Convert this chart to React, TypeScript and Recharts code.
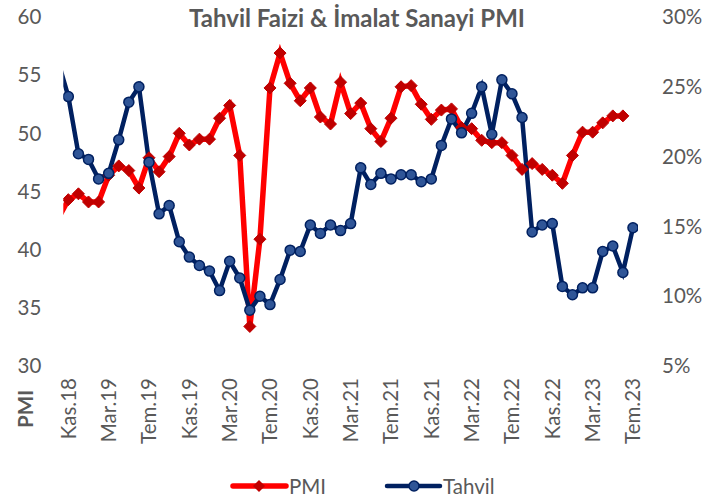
import React from 'react';
import { LineChart, Line, XAxis, YAxis } from 'recharts';

const CATEGORIES = ['Eki.18','Kas.18','Ara.18','Oca.19','Şub.19','Mar.19','Nis.19','May.19','Haz.19','Tem.19','Ağu.19','Eyl.19','Eki.19','Kas.19','Ara.19','Oca.20','Şub.20','Mar.20','Nis.20','May.20','Haz.20','Tem.20','Ağu.20','Eyl.20','Eki.20','Kas.20','Ara.20','Oca.21','Şub.21','Mar.21','Nis.21','May.21','Haz.21','Tem.21','Ağu.21','Eyl.21','Eki.21','Kas.21','Ara.21','Oca.22','Şub.22','Mar.22','Nis.22','May.22','Haz.22','Tem.22','Ağu.22','Eyl.22','Eki.22','Kas.22','Ara.22','Oca.23','Şub.23','Mar.23','Nis.23','May.23','Haz.23','Tem.23'];

const PMI_VALUES: (number | null)[] = [42.7, 44.3, 44.8, 44.1, 44.1, 46.4, 47.2, 46.8, 45.3, 47.9, 46.7, 48.0, 50.0, 49.0, 49.5, 49.5, 51.3, 52.4, 48.1, 33.4, 40.9, 53.9, 56.9, 54.3, 52.8, 53.9, 51.4, 50.8, 54.4, 51.7, 52.6, 50.4, 49.3, 51.3, 54.0, 54.1, 52.5, 51.2, 52.0, 52.1, 50.5, 50.4, 49.4, 49.2, 49.2, 48.1, 46.9, 47.4, 46.9, 46.4, 45.7, 48.1, 50.1, 50.1, 50.9, 51.5, 51.5, null];

const TAHVIL_VALUES: number[] = [26.8, 24.3, 20.2, 19.8, 18.4, 18.8, 21.2, 23.9, 25.0, 19.6, 15.9, 16.5, 13.9, 12.8, 12.2, 11.8, 10.4, 12.5, 11.3, 9.0, 10.0, 9.4, 11.2, 13.3, 13.2, 15.1, 14.5, 15.1, 14.7, 15.2, 19.2, 18.0, 18.8, 18.4, 18.7, 18.7, 18.2, 18.4, 20.8, 22.7, 21.7, 23.1, 25.0, 21.6, 25.5, 24.5, 22.8, 14.6, 15.1, 15.2, 10.7, 10.1, 10.6, 10.6, 13.2, 13.6, 11.7, 14.9];

const X_TICKS = [1, 5, 9, 13, 17, 21, 25, 29, 33, 37, 41, 45, 49, 53, 57];
const LEFT_TICKS = [30, 35, 40, 45, 50, 55, 60];
const RIGHT_TICKS = [5, 10, 15, 20, 25, 30];

const data = CATEGORIES.map((c, i) => ({ i, cat: c, pmi: PMI_VALUES[i], tahvil: TAHVIL_VALUES[i] }));

const FONT = 'Lato, "Open Sans", sans-serif';
const GREY = '#595959';
const FS = 20.5;

const XTick = (props: any) => {
  const { x, y, payload } = props;
  return (
    <g transform={`translate(${x},${y})`}>
      <text transform="rotate(-90)" textAnchor="end" dy="0.36em" fill={GREY} fontSize={FS} fontFamily={FONT}>
        {CATEGORIES[payload.value]}
      </text>
    </g>
  );
};

const Diamond = (props: any) => {
  const { cx, cy, index, payload } = props;
  if (cx == null || cy == null || payload == null || payload.pmi == null || payload.i < 1) return <g key={`d${index}`} />;
  const s = 6;
  return (
    <polygon key={`d${index}`} points={`${cx},${cy - s} ${cx + s},${cy} ${cx},${cy + s} ${cx - s},${cy}`} fill="#C00000" stroke="#C00000" strokeWidth={1} />
  );
};

const Circle = (props: any) => {
  const { cx, cy, index, payload } = props;
  if (cx == null || cy == null || payload == null || payload.i < 1) return <g key={`c${index}`} />;
  return <circle key={`c${index}`} cx={cx} cy={cy} r={5} fill="#2F5597" stroke="#002060" strokeWidth={1.5} />;
};

export default function App() {
  return (
    <div style={{ position: 'absolute', left: 0, top: 0, width: 715, height: 504, background: '#fff' }}>
      <LineChart width={715} height={504} data={data} margin={{ top: 17, right: 7, left: 8.3, bottom: 48 }}>
        <XAxis
          dataKey="i"
          type="number"
          domain={[0.5, 57.5]}
          allowDataOverflow
          ticks={X_TICKS}
          interval={0}
          tick={<XTick />}
          axisLine={false}
          tickLine={false}
          tickSize={6}
          tickMargin={6}
          height={90}
        />
        <YAxis
          yAxisId="left"
          orientation="left"
          domain={[30, 60]}
          ticks={LEFT_TICKS}
          width={55}
          axisLine={false}
          tickLine={false}
          tickSize={6}
          tickMargin={16}
          tick={{ fill: GREY, fontSize: FS, fontFamily: FONT }}
        />
        <YAxis
          yAxisId="right"
          orientation="right"
          domain={[5, 30]}
          ticks={RIGHT_TICKS}
          width={70}
          axisLine={false}
          tickLine={false}
          tickSize={6}
          tickMargin={18}
          tickFormatter={(v: number) => `${v}%`}
          tick={{ fill: GREY, fontSize: FS, fontFamily: FONT, textAnchor: 'start' }}
        />
        <Line yAxisId="left" dataKey="pmi" stroke="#FF0000" strokeWidth={5.5} dot={Diamond} activeDot={false} isAnimationActive={false} connectNulls={false} />
        <Line yAxisId="right" dataKey="tahvil" stroke="#002060" strokeWidth={4.5} dot={Circle} activeDot={false} isAnimationActive={false} />
      </LineChart>
      <svg width={715} height={504} style={{ position: 'absolute', left: 0, top: 0, pointerEvents: 'none' }}>
        <text x={357} y={17} textAnchor="middle" dominantBaseline="central" fill={GREY} fontSize={24} fontWeight="bold" fontFamily={FONT}>
          Tahvil Faizi &amp; İmalat Sanayi PMI
        </text>
        <g transform="translate(26,409)">
          <text transform="rotate(-90)" textAnchor="middle" dy="0.36em" fill={GREY} fontSize={FS} fontWeight="bold" fontFamily={FONT}>PMI</text>
        </g>
        <line x1={233} y1={486} x2={286} y2={486} stroke="#FF0000" strokeWidth={5.5} strokeLinecap="round" />
        <polygon points="259,480 265,486 259,492 253,486" fill="#C00000" />
        <text x={289} y={486} dominantBaseline="central" fill={GREY} fontSize={FS} fontFamily={FONT}>PMI</text>
        <line x1={387} y1={486} x2={440} y2={486} stroke="#002060" strokeWidth={4.5} strokeLinecap="round" />
        <circle cx={414} cy={486} r={5} fill="#2F5597" stroke="#002060" strokeWidth={1.5} />
        <text x={443} y={486} dominantBaseline="central" fill={GREY} fontSize={FS} fontFamily={FONT}>Tahvil</text>
      </svg>
    </div>
  );
}
